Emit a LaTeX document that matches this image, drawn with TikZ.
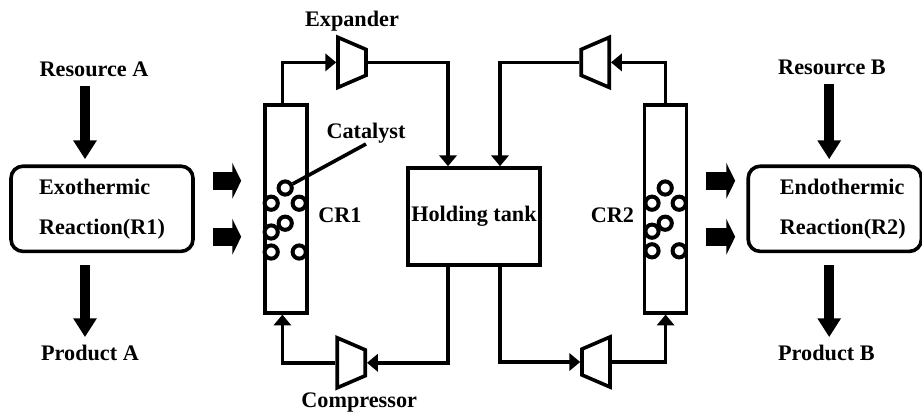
\documentclass[tikz,border=0pt]{standalone}
\usepackage{fontspec}
\setmainfont{Liberation Serif}
\usetikzlibrary{positioning,arrows.meta,shapes.geometric}
\tikzset{>=latex}
\tikzstyle{label_cust}=[font=\bfseries\fontsize{15.8}{28.45pt}\selectfont, inner sep=0pt]
\tikzstyle{reactor}=[draw, rounded corners=0.3cm, line width=0.09cm, minimum width=4.55cm, minimum height=2.13cm, align=left, label_cust]
\tikzstyle{column}=[draw, line width=0.09cm, minimum width=1.05cm, minimum height=5.2cm]
\tikzstyle{tank}=[draw, line width=0.09cm, minimum width=3.3cm, minimum height=2.42cm, label_cust]
\tikzstyle{turbine}=[draw, trapezium, trapezium stretches=true, trapezium angle=65, line width=0.09cm, minimum width=1.25cm, minimum height=0.7cm, inner sep=0pt]
\tikzstyle{pellet}=[draw, circle, fill=white, line width=0.1cm, minimum size=0.33cm, inner sep=0pt]
\tikzstyle{connect arrow}=[-{Triangle[length=0.27cm,width=0.43cm]}, line width=0.09cm]
\tikzstyle{flow arrow}=[-{Triangle[length=0.47cm,width=0.56cm]}, line width=0.25cm]
\tikzstyle{heat arrow}=[-{Triangle[length=0.22cm,width=0.88cm]}, line width=0.45cm]

\begin{document}
\begin{tikzpicture}[on grid]
\useasboundingbox (0,0) rectangle (23.05,-10.3);

% holding tank and columns
        \node[tank] (tank) at (11.85,-5.41) {\raisebox{-1pt}{Holding tank}};
        \node[column, above left=0.19cm and 4.7cm of tank] (cr1) {};
        \node[column, above right=0.19cm and 4.79cm of tank] (cr2) {};
        \node[label_cust, right=1.35cm of cr1, yshift=-0.15cm] (cr1_label) {CR1};
        \node[label_cust, left=1.33cm of cr2, yshift=-0.15cm] (cr2_label) {CR2};

        % reactions
        \node[reactor, left=4.6cm of cr1] (r1) {Exothermic\\Reaction(R1)};
        \node[reactor, minimum width=4.33cm, right=4.23cm of cr2] (r2) {\hspace*{0.4cm}Endothermic\\\hspace*{0.4cm}Reaction(R2)};
        \node[label_cust] (res_a) at (2.35,-1.73) {Resource A};
        \node[label_cust] (prod_a) at (2.25,-8.83) {Product A};
        \node[label_cust] (res_b) at (20.8,-1.68) {Resource B};
        \node[label_cust] (prod_b) at (20.66,-8.83) {Product B};

        % machines
        \node[turbine, shape border rotate=270] (expander) at (8.8,-1.56) {\phantom{\rule{1pt}{1pt}}};
        \node[turbine, shape border rotate=270] (compressor) at (8.78,-9.07) {\phantom{\rule{1pt}{1pt}}};
        \node[turbine, shape border rotate=90] (exp_right) at (14.88,-1.56) {\phantom{\rule{1pt}{1pt}}};
        \node[turbine, shape border rotate=90] (comp_right) at (14.9,-9.05) {\phantom{\rule{1pt}{1pt}}};
        \node[label_cust, above=1.03cm of expander] (expander_label) {Expander};
        \node[label_cust, below=0.99cm of compressor, xshift=0.2cm] (compressor_label) {Compressor};
        \node[label_cust] (catalyst) at (9.15,-3.34) {Catalyst};

        % catalyst pellets
        \node[pellet] (p1) at (7.13,-4.7) {};
        \draw[line width=0.09cm] (p1) -- (catalyst.south);
        \node[pellet] (p2) at (6.78,-5.08) {};
        \node[pellet] (p3) at (7.48,-5.08) {};
        \node[pellet] (p4) at (7.13,-5.58) {};
        \node[pellet] (p5) at (6.78,-5.8) {};
        \node[pellet] (p6) at (6.78,-6.3) {};
        \node[pellet] (p7) at (7.48,-6.3) {};

        \node[pellet] (q1) at (16.63,-4.7) {};
        \node[pellet] (q2) at (16.3,-5.08) {};
        \node[pellet] (q3) at (16.98,-5.08) {};
        \node[pellet] (q4) at (16.63,-5.58) {};
        \node[pellet] (q5) at (16.3,-5.78) {};
        \node[pellet] (q6) at (16.3,-6.27) {};
        \node[pellet] (q7) at (16.98,-6.27) {};

        \begin{scope}[connect arrow]
            \draw ([xshift=-0.09cm]cr1.north) |- (expander.west);
            \draw (expander.east) -| ([xshift=-0.65cm]tank.north);
            \draw ([xshift=-0.65cm]tank.south) |- (compressor.east);
            \draw (compressor.west) -| ([xshift=-0.09cm]cr1.south);
            \draw (cr2.north) |- (exp_right.east);
            \draw (exp_right.west) -| ([xshift=0.65cm]tank.north);
            \draw ([xshift=0.65cm]tank.south) |- (comp_right.west);
            \draw (comp_right.east) -| (cr2.south);
        \end{scope}

        \begin{scope}[flow arrow]
            \draw[shorten <=0.23cm, shorten >=0.13cm] ([xshift=-0.425cm]r1.north |- res_a.south) -- ([xshift=-0.425cm]r1.north);
            \draw[shorten <=0.3cm, shorten >=0.2cm] ([xshift=-0.425cm]r1.south) -- ([xshift=-0.425cm]r1.south |- prod_a.north);
            \draw[shorten <=0.23cm, shorten >=0.13cm] ([xshift=-0.14cm]r2.north |- res_b.south) -- ([xshift=-0.14cm]r2.north);
            \draw[shorten <=0.3cm, shorten >=0.2cm] ([xshift=-0.14cm]r2.south) -- ([xshift=-0.14cm]r2.south |- prod_b.north);
        \end{scope}

        \begin{scope}[heat arrow]
            \draw[shorten <=0.46cm, shorten >=0.55cm] ([yshift=0.7cm]r1.east) -- ([yshift=0.7cm]cr1.west);
            \draw[shorten <=0.46cm, shorten >=0.55cm] ([yshift=-0.7cm]r1.east) -- ([yshift=-0.7cm]cr1.west);
            \draw[shorten <=0.45cm, shorten >=0.28cm] ([yshift=0.7cm]cr2.east) -- ([yshift=0.7cm]r2.west);
            \draw[shorten <=0.45cm, shorten >=0.28cm] ([yshift=-0.7cm]cr2.east) -- ([yshift=-0.7cm]r2.west);
        \end{scope}

\end{tikzpicture}
\end{document}
